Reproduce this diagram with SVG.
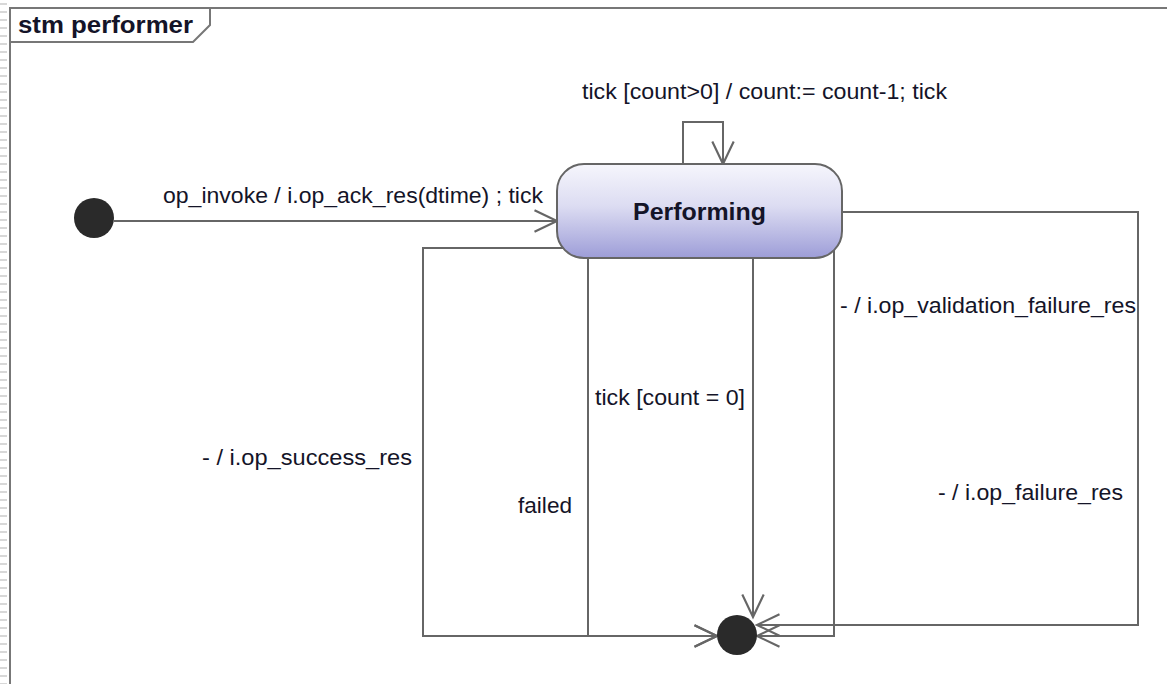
<svg xmlns="http://www.w3.org/2000/svg" width="1167" height="684" viewBox="0 0 1167 684">
<defs>
<linearGradient id="stateGrad" x1="0" y1="0" x2="0" y2="1">
<stop offset="0" stop-color="#f6f6fc"/>
<stop offset="0.45" stop-color="#dcdcf2"/>
<stop offset="1" stop-color="#9d9dd8"/>
</linearGradient>
<pattern id="ruler" x="0" y="0" width="8" height="8" patternUnits="userSpaceOnUse">
<rect x="0" y="3" width="7" height="2" fill="#d8d8d8"/>
</pattern>
<marker id="openArrow" markerUnits="userSpaceOnUse" markerWidth="30" markerHeight="30" viewBox="-24 -12 28 24" refX="0" refY="0" orient="auto">
<path d="M-21,-10 L0,0 L-21,10" fill="none" stroke="#666" stroke-width="2"/>
</marker>
</defs>
<style>
.lbl{font-family:"Liberation Sans",Arial,sans-serif;font-size:22px;fill:#141428;}
.bold{font-family:"Liberation Sans",Arial,sans-serif;font-size:23px;font-weight:bold;fill:#141428;}
.conn{fill:none;stroke:#666;stroke-width:2;}
.frame{fill:none;stroke:#777;stroke-width:2;}
</style>
<rect x="0" y="0" width="1167" height="684" fill="#ffffff"/>
<rect x="0" y="0" width="8" height="684" fill="url(#ruler)"/>
<g id="frame">
<path class="frame" d="M10,684 V8 H1167"/>
<path class="frame" d="M10,42 H193 L210,25 V8"/>
<text class="bold" x="18" y="33" textLength="175" lengthAdjust="spacingAndGlyphs">stm performer</text>
</g>
<g id="connectors">
<path class="conn" d="M114,221 H557" marker-end="url(#openArrow)"/>
<path class="conn" d="M683,164 V122 H723 V164" marker-end="url(#openArrow)"/>
<path class="conn" d="M570,248 H423 V636 H717" marker-end="url(#openArrow)"/>
<path class="conn" d="M588,256 V636 H717" marker-end="url(#openArrow)"/>
<path class="conn" d="M753,256 V617" marker-end="url(#openArrow)"/>
<path class="conn" d="M834,250 V636 H757" marker-end="url(#openArrow)"/>
<path class="conn" d="M842,212 H1138 V625 H757" marker-end="url(#openArrow)"/>
<text class="lbl" x="163" y="203" textLength="380" lengthAdjust="spacingAndGlyphs">op_invoke / i.op_ack_res(dtime) ; tick</text>
<text class="lbl" x="582" y="99" textLength="365" lengthAdjust="spacingAndGlyphs">tick [count&gt;0] / count:= count-1; tick</text>
<text class="lbl" x="202" y="465" textLength="210" lengthAdjust="spacingAndGlyphs">- / i.op_success_res</text>
<text class="lbl" x="518" y="513" textLength="54" lengthAdjust="spacingAndGlyphs">failed</text>
<text class="lbl" x="595" y="405" textLength="150" lengthAdjust="spacingAndGlyphs">tick [count = 0]</text>
<text class="lbl" x="840" y="313" textLength="296" lengthAdjust="spacingAndGlyphs">- / i.op_validation_failure_res</text>
<text class="lbl" x="938" y="500" textLength="185" lengthAdjust="spacingAndGlyphs">- / i.op_failure_res</text>
</g>
<g id="initial">
<circle cx="94" cy="218" r="20" fill="#2a2a2a"/>
</g>
<g id="performing">
<rect x="557" y="164" width="285" height="94" rx="27" ry="27" fill="url(#stateGrad)" stroke="#666" stroke-width="2"/>
<text class="bold" x="699.5" y="220" text-anchor="middle" textLength="133" lengthAdjust="spacingAndGlyphs">Performing</text>
</g>
<g id="final">
<circle cx="737" cy="635" r="20" fill="#2a2a2a"/>
</g>
</svg>
